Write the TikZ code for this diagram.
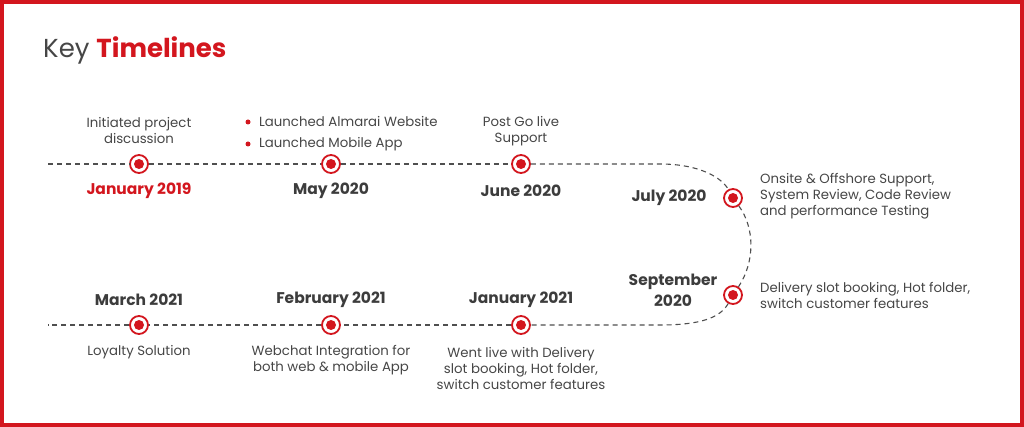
\documentclass[tikz,border=0pt]{standalone}
\usepackage{fontspec}
\setmainfont{Poppins}
\definecolor{kred}{HTML}{D3161E}
\definecolor{ktext}{HTML}{464646}
\definecolor{kdate}{HTML}{3C3C3C}
\definecolor{kline}{HTML}{4F4F4F}
\begin{document}
\begin{tikzpicture}[x=1pt,y=-1pt,
  mile/.style={circle,draw=kred,line width=1.8pt,fill=white,minimum size=18pt,inner sep=0pt,
    path picture={\fill[kred] (path picture bounding box.center) circle (5);}},
  desc/.style={text=ktext,font=\fontsize{13.3}{16}\selectfont,align=center,inner sep=0pt},
  descl/.style={desc,align=left,anchor=west},
  date/.style={text=kdate,font=\fontsize{15.5}{21}\bfseries,align=center,inner sep=0pt},
  tl/.style={draw=kline,line width=1.1pt,dash pattern=on 5pt off 4pt},
  bul/.style={circle,fill=kred,minimum size=5pt,inner sep=0pt}]
\useasboundingbox (0,0) rectangle (1024,427);
\draw[kred,line width=4pt] (2,2) rectangle (1022,425);
\node[anchor=base west,inner sep=0pt,font=\fontsize{26}{30}\selectfont] (title) at (43,58)
  {\textcolor{ktext}{Key} \textcolor{kred}{\bfseries Timelines}};
% coordinates
\coordinate (s1) at (48,164);
\coordinate (t1) at (660,164);
\coordinate (b1) at (660,325);
\coordinate (s2) at (48,325);
% milestones
\node[mile] (m1) at (139,164) {};
\node[mile] (m2) at (331,164) {};
\node[mile] (m3) at (521,164) {};
\node[mile] (m4) at (733,198) {};
\node[mile] (m5) at (733,295) {};
\node[mile] (m6) at (521,325) {};
\node[mile] (m7) at (331,325) {};
\node[mile] (m8) at (139,325) {};
% line
\draw[tl] (s1) -- (m1);
\draw[tl] (m1) -- (m2);
\draw[tl] (m2) -- (m3);
\draw[tl] (m3) -- (t1) .. controls (700,164) and (722,178) .. (m4);
\draw[tl] (m4) .. controls (755,228) and (755,262) .. (m5);
\draw[tl] (m5) .. controls (720,318) and (700,325) .. (b1) -- (m6);
\draw[tl] (m6) -- (m7);
\draw[tl] (m7) -- (m8);
\draw[tl] (m8) -- (s2);
% top texts
\node[desc] (d1) at (139,131) {Initiated project\\discussion};
\node[bul] (bu1) at (248,122) {};
\node[descl] (d2a) at (259,122) {Launched Almarai Website};
\node[bul] (bu2) at (248,144) {};
\node[descl] (d2b) at (259,144) {Launched Mobile App};
\node[desc] (d3) at (521,131) {Post Go live\\Support};
\node[date,text=kred] (y1) at (139,191) {January 2019};
\node[date] (y2) at (331,191) {May 2020};
\node[date] (y3) at (521,191) {June 2020};
\node[date] (y4) at (669,198) {July 2020};
\node[descl] (d4) at (760,196) {Onsite \& Offshore Support,\\System Review, Code Review\\and performance Testing};
\node[date] (y5) at (673,290.5) {September\\2020};
\node[descl] (d5) at (760,295) {Delivery slot booking, Hot folder,\\switch customer features};
% bottom texts
\node[date] (y6) at (521,300) {January 2021};
\node[date] (y7) at (331,300) {February 2021};
\node[date] (y8) at (139,300) {March 2021};
\node[desc] (d6) at (521,368) {Went live with Delivery\\slot booking, Hot folder,\\switch customer features};
\node[desc] (d7) at (331,360) {Webchat Integration for\\both web \& mobile App};
\node[desc] (d8) at (139,352) {Loyalty Solution};
\end{tikzpicture}
\end{document}
